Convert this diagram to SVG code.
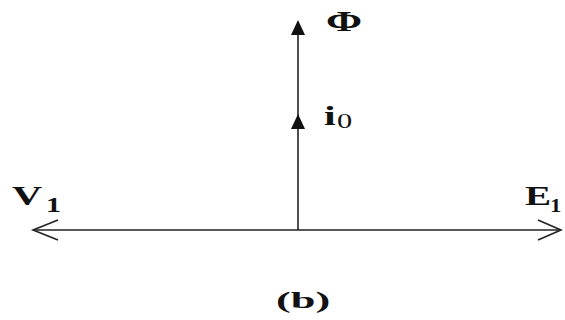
<svg xmlns="http://www.w3.org/2000/svg" width="565" height="320" viewBox="0 0 565 320">
<style>
.ax{stroke:#222;stroke-width:1.6;fill:none}
.lb{font-family:"Liberation Serif","Times New Roman",serif;font-weight:bold;fill:#111}
.sb{font-family:"Liberation Serif","Times New Roman",serif;fill:#111}
</style>
<rect width="565" height="320" fill="#fff"/>
<g id="connectors">
<line class="ax" x1="298" y1="230" x2="298" y2="22"/>
<path d="M298,20 L305,35 L291,35 Z" fill="#111"/>
<path d="M298,114 L305,129 L291,129 Z" fill="#111"/>
<line class="ax" x1="33" y1="230" x2="561" y2="230"/>
<polyline class="ax" points="58,220 33,230 58,240"/>
<polyline class="ax" points="538,220 561,230 538,240"/>
</g>
<g id="phi"><text class="lb" transform="translate(326,31) scale(1.5,1)" font-size="29">Φ</text></g>
<g id="i0">
<text class="lb" transform="translate(324,125) scale(1.5,1)" font-size="28">i</text>
<text class="sb" transform="translate(337,128) scale(1.45,1)" font-size="21">0</text>
</g>
<g id="V1">
<text class="lb" transform="translate(12,205) scale(1.55,1)" font-size="27">V</text>
<text class="lb" transform="translate(46,212) scale(1.5,1)" font-size="20">1</text>
</g>
<g id="E1">
<text class="lb" transform="translate(525,205) scale(1.45,1)" font-size="27">E</text>
<text class="lb" transform="translate(550,212) scale(1.2,1)" font-size="19">1</text>
</g>
<g id="b"><text class="lb" transform="translate(276,308) scale(1.85,1)" font-size="24">(b)</text></g>
</svg>
